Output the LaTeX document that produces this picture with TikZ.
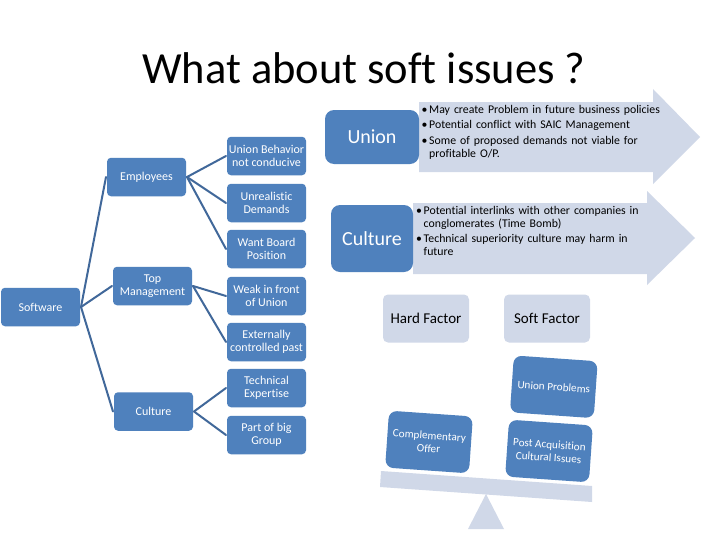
\documentclass[tikz,border=0pt]{standalone}
\usepackage{fontspec}
\setmainfont[Ligatures=NoCommon]{Carlito}
\definecolor{bluebox}{HTML}{4F81BD}
\definecolor{lightbox}{HTML}{D0D8E8}
\definecolor{linkblue}{HTML}{41689A}
\tikzset{
  bx/.style={fill=bluebox,rounded corners=4pt,text=white,align=center,inner sep=0pt,outer sep=1pt,minimum width=79pt,minimum height=38.5pt,font=\fontsize{12}{13}\selectfont},
  lk/.style={draw=linkblue,line width=2pt,line cap=round},
  big/.style={bx,rounded corners=9pt,font=\fontsize{20}{22}\selectfont},
  lt/.style={fill=lightbox,rounded corners=5pt,text=black,align=center,inner sep=0pt,minimum width=86pt,minimum height=48pt,font=\fontsize{15}{16}\selectfont},
  tilt/.style={bx,rotate=-4,rounded corners=8pt,minimum width=84pt,minimum height=57pt,font=\fontsize{11.2}{13}\selectfont},
  bullets/.style={anchor=north west,inner sep=0pt,align=left,font=\fontsize{11.8}{13}\selectfont}
}
\newcommand{\bitem}[1]{\par\hangindent=7.5pt\hangafter=1\noindent\hbox to 7.5pt{•\hss}#1\par\vspace{2.2pt}}
\begin{document}
\begin{tikzpicture}[x=1pt,y=-1pt]
\useasboundingbox (0,0) rectangle (728,546);
\fill[white] (0,0) rectangle (728,546);
\node[font=\fontsize{44.5}{48}\selectfont] (title) at (364,68) {What about soft issues ?};
% tree
\node[bx] (sw) at (40.5,307) {Software};
\node[bx] (em) at (146.5,177) {Employees};
\node[bx] (tm) at (152.5,286) {Top\\Management};
\node[bx] (cu) at (153.5,411.5) {Culture};
\node[bx] (a) at (266.5,156) {Union Behavior\\not conducive};
\node[bx] (b) at (266.5,203) {Unrealistic\\Demands};
\node[bx] (c) at (266.5,249) {Want Board\\Position};
\node[bx] (d) at (266.5,296) {Weak in front\\of Union};
\node[bx] (e) at (266.5,342) {Externally\\controlled past};
\node[bx] (f) at (266.5,388) {Technical\\Expertise};
\node[bx] (g) at (266.5,435) {Part of big\\Group};
\foreach \p/\q in {sw/em,sw/tm,sw/cu,em/a,em/b,em/c,tm/d,tm/e,cu/f,cu/g}
  \draw[lk] (\p.east) -- (\q.west);
% arrows
\fill[lightbox] (419,102) -- (653,102) -- (653,89) -- (700,137) -- (653,184) -- (653,172) -- (419,172) -- cycle;
\fill[lightbox] (413,203) -- (647,203) -- (647,191) -- (695,238) -- (647,285) -- (647,274) -- (413,274) -- cycle;
\node[big,minimum width=94pt,minimum height=54pt] (un) at (372,137) {Union};
\node[big,minimum width=82pt,minimum height=67pt] (cl) at (372,238.5) {Culture};
\node[bullets,text width=250pt] (ub) at (421.5,100.5) {\raggedright\bitem{May create Problem in future business policies}\bitem{Potential conflict with SAIC Management}\bitem{Some of proposed demands not viable for profitable O/P.}};
\node[bullets,text width=228pt] (cb) at (416,201.5) {\raggedright\bitem{Potential interlinks with other companies in conglomerates (Time Bomb)}\bitem{Technical superiority culture may harm in future}};
% balance
\node[lt] (hf) at (426,318.5) {Hard Factor};
\node[lt] (sf) at (547,318.5) {Soft Factor};
\fill[lightbox] (381,471) -- (592,486) -- (592,502) -- (380,487) -- cycle;
\fill[lightbox] (486,494) -- (504,529) -- (468,529) -- cycle;
\node[tilt] (up) at (553.8,386.8) {Union Problems};
\node[tilt] (pa) at (549,451) {Post Acquisition\\Cultural Issues};
\node[tilt] (co) at (429,442) {Complementary\\Offer};
\end{tikzpicture}
\end{document}
